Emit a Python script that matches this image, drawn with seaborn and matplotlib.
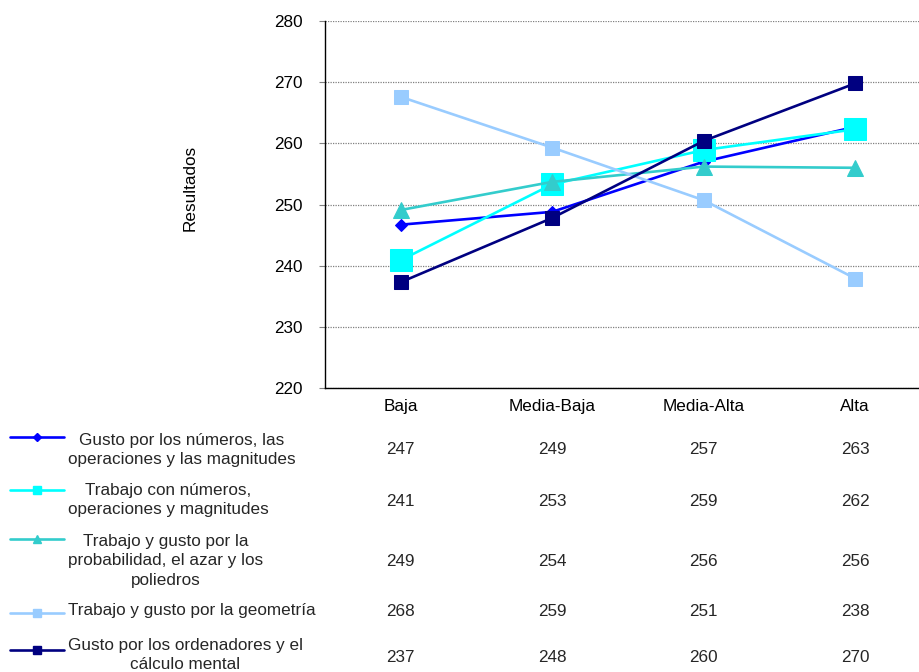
import matplotlib
matplotlib.use("Agg")
import matplotlib.pyplot as plt
import matplotlib.transforms as mtransforms
from matplotlib.lines import Line2D
import seaborn as sns
import pandas as pd

categories = ["Baja", "Media-Baja", "Media-Alta", "Alta"]
series_names = [
    "Gusto por los números, las\noperaciones y las magnitudes",
    "Trabajo con números,\noperaciones y magnitudes",
    "Trabajo y gusto por la\nprobabilidad, el azar y los\npoliedros",
    "Trabajo y gusto por la geometría",
    "Gusto por los ordenadores y el\ncálculo mental",
]
s1 = [246.7, 248.8, 257.0, 262.7]
s2 = [240.9, 253.3, 258.9, 262.3]
s3 = [249.1, 253.7, 256.2, 256.0]
s4 = [267.6, 259.3, 250.7, 237.9]
s5 = [237.3, 247.8, 260.4, 269.8]
table_vals = [[247, 249, 257, 263], [241, 253, 259, 262], [249, 254, 256, 256],
              [268, 259, 251, 238], [237, 248, 260, 270]]
y_ticks = [220, 230, 240, 250, 260, 270, 280]
y_label = "Resultados"

colors = ["#0000FF", "#00FFFF", "#33CCCC", "#99CCFF", "#000080"]
markers = ["D", "s", "^", "s", "s"]
msizes = [6.5, 16.5, 11, 10, 9.5]
leg_msizes = [4.5, 6, 6, 5.5, 5.5]
FS = 12.3

sns.set_theme(style="white")
plt.rcParams["font.family"] = ["Liberation Sans", "DejaVu Sans"]

W, H = 920, 672
fig = plt.figure(figsize=(W / 100, H / 100), dpi=100)
ax = fig.add_axes([325 / W, 1 - 388 / H, 606 / W, 367 / H])

all_series = [s1, s2, s3, s4, s5]
for vals, c, m, ms in zip(all_series, colors, markers, msizes):
    df = pd.DataFrame({"cat": categories, "val": vals})
    sns.lineplot(data=df, x="cat", y="val", sort=False, ax=ax, color=c,
                 marker=m, markersize=ms, markeredgecolor=c, linewidth=1.9,
                 clip_on=False, zorder=3)

ax.set_xlim(-0.5, 3.5)
ax.set_ylim(220, 280)
ax.set_yticks(y_ticks)
ax.set_yticklabels([str(t) for t in y_ticks], fontsize=FS, color="black")
ax.set_xlabel("")
ax.set_ylabel(y_label, fontsize=FS, color="black")
ax.yaxis.set_label_coords((198 - 325) / 606, (388 - 188) / 367)
ax.set_xticks(range(len(categories)))
ax.set_xticklabels(categories, fontsize=FS, color="black")
ax.tick_params(axis="x", length=0, pad=8)
ax.tick_params(axis="y", length=4, width=0.8, color="#808080", pad=12, left=True)
ax.yaxis.grid(True, color="#808080", linestyle=(0, (1, 1)), linewidth=0.9)
ax.xaxis.grid(False)
for sp in ["top", "right"]:
    ax.spines[sp].set_visible(False)
for sp in ["left", "bottom"]:
    ax.spines[sp].set_color("black")
    ax.spines[sp].set_linewidth(1.0)

# data table below
trans = mtransforms.blended_transform_factory(ax.transData, fig.transFigure)
row_y = [449, 501, 561, 611, 657]
label_y = [450, 500, 561, 611, 655]
leg_y = [437, 490, 539, 613, 650]
for i in range(5):
    for j in range(4):
        fig.text(j, 1 - row_y[i] / H, str(table_vals[i][j]), transform=trans,
                 ha="center", va="center", fontsize=FS)
    fig.text(68 / W, 1 - label_y[i] / H, series_names[i], ha="left", va="center",
             multialignment="center", fontsize=FS, linespacing=1.34)
    ln = Line2D([10 / W, 64 / W], [1 - leg_y[i] / H] * 2, transform=fig.transFigure,
                color=colors[i], linewidth=1.9)
    fig.add_artist(ln)
    mk = Line2D([37 / W], [1 - leg_y[i] / H], transform=fig.transFigure,
                color=colors[i], marker=markers[i], markersize=leg_msizes[i],
                markeredgecolor=colors[i], linestyle="none")
    fig.add_artist(mk)

fig.savefig("out.png", dpi=100)
